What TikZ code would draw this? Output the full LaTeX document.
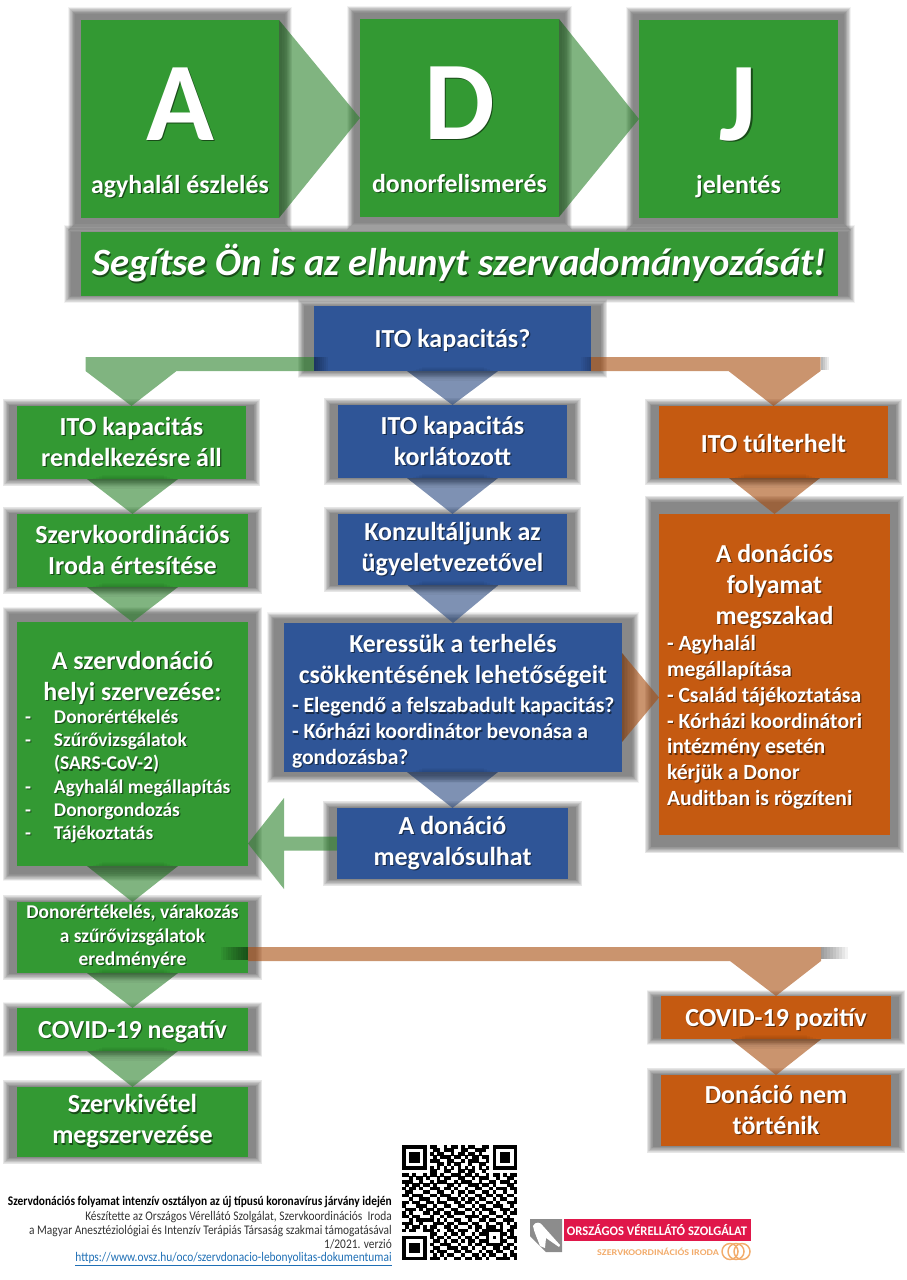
\documentclass[tikz,border=0pt]{standalone}
\usepackage{fontspec}
\setmainfont{Carlito}
\usetikzlibrary{calc}
\definecolor{gcol}{HTML}{339933}
\definecolor{bcol}{HTML}{2F5597}
\definecolor{ocol}{HTML}{C55A11}
\definecolor{redcol}{HTML}{E0174A}
\definecolor{lorange}{HTML}{F2AC6C}
\definecolor{linkcol}{HTML}{1F6FB5}
\pgfdeclarelayer{shadow}\pgfdeclarelayer{arrows}\pgfdeclarelayer{over}
\pgfsetlayers{shadow,arrows,main,over}
\def\fH{\fontsize{84}{97.5}\selectfont}
\def\fC{\fontsize{19.4}{23}\selectfont}
\def\fA{\fontsize{19.5}{23.25}\selectfont}
\def\fB{\fontsize{14.6}{17.4}\selectfont}
\def\fT{\fontsize{19.4}{23.25}\selectfont}
\def\fL{\fontsize{16.25}{19.4}\selectfont}
\newcommand{\Ls}[1]{\mbox{\rlap{\raisebox{-.9pt}{\hspace{.9pt}\textcolor{txs}{#1}}}#1}}
\newcommand{\Tc}[1]{\makebox[\linewidth][c]{\Ls{#1}}}
\newcommand{\Da}{\makebox[21.75pt][l]{-}}
\newcommand{\Un}{\rule{0pt}{17pt}}
\tikzset{
  x=.75pt,y=-.75pt,
  boxbase/.style={inner sep=0pt,outer sep=0pt,text=white,font=\bfseries\fA,align=center},
  gbox/.style={boxbase,fill=gcol,execute at begin node={\colorlet{txs}{black!50!gcol}}},
  bbox/.style={boxbase,fill=bcol,execute at begin node={\colorlet{txs}{black!50!bcol}}},
  obox/.style={boxbase,fill=ocol,execute at begin node={\colorlet{txs}{black!50!ocol}}},
  arrowfill/.style={fill=#1!85!black,opacity=.6},
  footline/.style={anchor=east,inner sep=0pt,xscale=.865,transform shape,text=black!80,font=\fontsize{9.9}{11}\selectfont},
  qrmod/.style={fill=black},
}
\newcommand{\bx}[8][]{%
  \pgfmathsetmacro\bw{#6-#4}\pgfmathsetmacro\bh{#7-#5}%
  \pgfmathsetmacro\sxx{min(13,.045*\bw)}\pgfmathsetmacro\syy{.045*\bh}%
  \begin{pgfonlayer}{shadow}
    \foreach \dd in {4,3.4,2.8,2.2,1.6,1,.4,-.2,-.8,-1.4,-2,-2.6}
      \fill[black,opacity=.05] (#4-\sxx-\dd,#5-\syy-\dd) rectangle (#6+\sxx+\dd,#7+\syy+\dd);
  \end{pgfonlayer}
  \node[#3,minimum width=\bw*.75pt,minimum height=\bh*.75pt,#1] (#2) at ({(#4+#6)/2},{(#5+#7)/2}) {#8};
}
% triangle connector with a soft dark band along its base
\newcommand{\tri}[5]{% colour, base A, base B, apex, shift vector of the band
  \begin{pgfonlayer}{arrows}
    \fill[arrowfill=#1] #2 -- #3 -- #4 -- cycle;
    \begin{scope}
      \clip #2 -- #3 -- #4 -- cycle;
      \foreach \dd in {.2,.4,.6,.8,1}
        \fill[black,opacity=.04] #2 -- #3 -- ($#3+\dd*#5$) -- ($#2+\dd*#5$) -- cycle;
    \end{scope}
  \end{pgfonlayer}
}
\newcommand{\dn}[3]{\tri{#3}{($(#1.south -| #2.north)+(-45.5,0)$)}{($(#1.south -| #2.north)+(45.5,0)$)}{(#2.north)}{(0,10)}%
  \begin{pgfonlayer}{over}
    \foreach \dd/\ww in {1/40,2/37,3/34,4/31}
      \fill[black,opacity=.03] ($(#1.south -| #2.north)+(-\ww,0)$) rectangle ($(#1.south -| #2.north)+(\ww,-\dd)$);
  \end{pgfonlayer}}
\newcount\qx
\def\qparse#1{\ifx#1;\else\if#11\fill[qrmod] (402+3.49*\qx-.1,\qy-.1) rectangle ++(3.69,3.69);\fi\advance\qx by 1 \expandafter\qparse\fi}
\begin{document}
\begin{tikzpicture}
\useasboundingbox (0,0) rectangle (906,1280);
% ---- top row
\bx{a}{gbox}{81}{20}{279}{218}{\fH\rule{0pt}{78pt}\Ls{A}\\[16.5pt]\fC\Ls{agyhalál észlelés}\rule[-6pt]{0pt}{6pt}}
\bx{d}{gbox}{360}{19}{559}{217}{\fH\rule{0pt}{78pt}\Ls{D}\\[16.5pt]\fC\Ls{donorfelismerés}\rule[-6pt]{0pt}{6pt}}
\bx{j}{gbox}{639}{20}{838}{218}{\fH\rule{0pt}{78pt}\Ls{J}\\[16.5pt]\fC\Ls{jelentés}\rule[-6pt]{0pt}{6pt}}
\bx{slogan}{gbox}{81}{232}{838}{296}{\fontsize{29}{34}\selectfont\itshape\Ls{Segítse Ön is az elhunyt szervadományozását!}}
\bx{top}{bbox}{314}{306}{591}{371}{\Un\Ls{ITO kapacitás?}}
% ---- left column
\bx{g1}{gbox}{17}{406}{246}{479}{\Ls{ITO kapacitás}\\\Ls{rendelkezésre áll}}
\bx{g2}{gbox}{17}{514}{248}{587}{\Ls{Szervkoordinációs}\\\Ls{Iroda értesítése}}
\bx[text width=215*.75pt,align=flush left]{g3}{gbox}{17}{622}{248}{866}{\fT\rule{0pt}{19pt}\Tc{A szervdonáció}\\\Tc{helyi szervezése:}\\\fB
\Ls{\Da Donorértékelés}\\\Ls{\Da Szűrővizsgálatok}\\\Ls{\makebox[21.75pt][l]{}(SARS-CoV-2)}\\\Ls{\Da Agyhalál megállapítás}\\\Ls{\Da Donorgondozás}\\\Ls{\Da Tájékoztatás}\par}
\bx[font=\bfseries\fontsize{14.6}{17.6}\selectfont]{g4}{gbox}{17}{902}{248}{973}{\Ls{Donorértékelés, várakozás}\\\Ls{a szűrővizsgálatok}\\\Ls{eredményére}}
\bx{g5}{gbox}{17}{1008}{248}{1051}{\Un\Ls{COVID-19 negatív}}
\bx{g6}{gbox}{17}{1087}{248}{1157}{\Ls{Szervkivétel}\\\Ls{megszervezése}}
% ---- middle column
\bx{b1}{bbox}{338}{405}{567}{478}{\Ls{ITO kapacitás}\\\Ls{korlátozott}}
\bx{b2}{bbox}{338}{514}{567}{585}{\Ls{Konzultáljunk az}\\\Ls{ügyeletvezetővel}}
\bx[text width=322*.75pt,align=flush left]{b3}{bbox}{284}{623}{622}{772}{\fT\rule{0pt}{20pt}\Tc{Keressük a terhelés}\\\Tc{csökkentésének lehetőségeit}\\[3pt]\fL\Ls{- Elegendő a felszabadult kapacitás?}\\\Ls{- Kórházi koordinátor bevonása a}\\\Ls{gondozásba?}\par}
\bx{b4}{bbox}{337}{808}{568}{879}{\Ls{A donáció}\\\Ls{megvalósulhat}}
% ---- right column
\bx{o1}{obox}{659}{406}{888}{478}{\Un\Ls{ITO túlterhelt}}
\bx[text width=215*.75pt,align=flush left]{o2}{obox}{659}{514}{890}{835}{\fT\rule{0pt}{18pt}\Tc{A donációs}\\\Tc{folyamat}\\\Tc{megszakad}\\\fL\Ls{- Agyhalál}\\\Ls{megállapítása}\\\Ls{- Család tájékoztatása}\\\Ls{- Kórházi koordinátori}\\\Ls{intézmény esetén}\\\Ls{kérjük a Donor}\\\Ls{Auditban is rögzíteni}\par}
\bx{o3}{obox}{661}{996}{891}{1039}{\Un\Ls{COVID-19 pozitív}}
\bx{o4}{obox}{661}{1075}{891}{1146}{\Ls{Donáció nem}\\\Ls{történik}}
% ---- straight connectors
\tri{gcol}{(a.north east)}{(a.south east)}{(d.west)}{(13,0)}
\tri{gcol}{(d.north east)}{(d.south east)}{(j.west)}{(13,0)}
\dn{top}{b1}{bcol}
\dn{b1}{b2}{bcol}
\dn{b2}{b3}{bcol}
\dn{b3}{b4}{bcol}
\dn{g1}{g2}{gcol}
\dn{g2}{g3}{gcol}
\dn{g3}{g4}{gcol}
\dn{g4}{g5}{gcol}
\dn{g5}{g6}{gcol}
\dn{o1}{o2}{ocol}
\dn{o3}{o4}{ocol}
\tri{ocol}{($(b3.east)+(0,-44.5)$)}{($(b3.east)+(0,44.5)$)}{(o2.west |- b3.east)}{(8,0)}
% ---- bent connectors
\begin{pgfonlayer}{arrows}
  \fill[arrowfill=gcol] (top.south west) -- ++(0,-14) -- ($(top.south -| g1.north)+(-46,-14)$) -- ($(top.south -| g1.north)+(-46,0)$) -- (g1.north) -- ($(top.south -| g1.north)+(45,0)$) -- cycle;
  \fill[arrowfill=ocol] (top.south east) -- ++(0,-14) -- ($(top.south -| o1.north)+(47,-14)$) -- ($(top.south -| o1.north)+(47,0)$) -- (o1.north) -- ($(top.south -| o1.north)+(-45,0)$) -- cycle;
  \fill[arrowfill=ocol] ($(g4.north east)+(0,45)$) -- ($(g4.north -| o3.north)+(45,45)$) -- ($(g4.north -| o3.north)+(45,59)$) -- (o3.north) -- ($(g4.north -| o3.north)+(-46,59)$) -- ($(g4.north east)+(0,59)$) -- cycle;
  \fill[arrowfill=gcol] ($(b4.west)+(0,-7)$) -- ($(b4.west)+(-53,-7)$) -- ($(b4.west)+(-53,-45.5)$) -- (g3.east |- b4.west) -- ($(b4.west)+(-53,45.5)$) -- ($(b4.west)+(-53,7)$) -- ($(b4.west)+(0,7)$) -- cycle;
\end{pgfonlayer}
% soft shadows of the bars
\begin{pgfonlayer}{shadow}
  \foreach \dd in {3,6,9,12,15,18,21,24,27}
    \fill[black,opacity=.05] ($(g4.north -| o3.north)+(45,45)$) rectangle ($(g4.north -| o3.north)+(45+\dd,57)$);
  \foreach \dd in {2,4,6,8}
    \fill[black,opacity=.08] ($(top.south -| o1.north)+(47,-14)$) rectangle ($(top.south -| o1.north)+(47+\dd,-1)$);
\end{pgfonlayer}
\begin{pgfonlayer}{over}
  \foreach \dd in {2.5,5,7.5,10,12.5,15,17.5,20,22.5,25,27.5}
    \fill[black,opacity=.05] ($(g4.north east)+(0,45)$) rectangle ($(g4.north east)+(-\dd,58)$);
  \foreach \dd in {2,4,6,8,10,12,14}
    \fill[black,opacity=.055] ($(top.south west)+(0,-14)$) rectangle ($(top.south west)+(\dd,0)$);
  \foreach \dd in {2,4,6,8,10}
    \fill[black,opacity=.04] ($(top.south east)+(0,-14)$) rectangle ($(top.south east)+(-\dd,0)$);
\end{pgfonlayer}
% ---- footer text
\node[footline,font=\bfseries\fontsize{9.9}{11}\selectfont,text=black] (f1) at (392,1202) {Szervdonációs folyamat intenzív osztályon az új típusú koronavírus járvány idején};
\node[footline] (f2) at (392,1217) {Készítette az Országos Vérellátó Szolgálat, Szervkoordinációs~ Iroda};
\node[footline] (f3) at (392,1231) {a Magyar Anesztéziológiai és Intenzív Terápiás Társaság szakmai támogatásával};
\node[footline] (f4) at (392,1244) {1/2021. verzió};
\node[footline,text=linkcol,anchor=base east] (f5) at (392,1261) {\underline{https://www.ovsz.hu/oco/szervdonacio-lebonyolitas-dokumentumai}};
% ---- QR code
\foreach \r [count=\i from 0] in {
111111101100101101011001101111111,
100000100110111001100111001000001,
101110101011001011011010001011101,
101110100101110110101101101011101,
101110101110011001011100101011101,
100000100011010110010011001000001,
111111101010101010101010101111111,
000000001100110011011001000000000,
110100101101001110110100101101011,
001011010010110011001011100100110,
111001001011100101110010011011101,
010110110100011010011101101000110,
101101001110110100100110010111011,
011000110011001011011001101001001,
110111001101110010100110110110110,
001001110010011101011011001011001,
110110011011100110110100110100111,
100011100100110011001011001110010,
011101011011001100110101110011101,
101000110110110111001010011001011,
110110001001011000111101100110100,
001011111010100110010011011001110,
111001000111011011101100100110101,
010110101100110100010110111010011,
101100111010011011100101111110110,
000000001100101101001011100011010,
111111101011010010110100101010111,
100000100110101101011011100011001,
101110101001110010010110111110110,
101110100110011101101001001101101,
101110101011100110110010110110010,
100000100101011001001101011001011,
111111101110100110110110100111101}
{
  \pgfmathsetmacro\qy{1145+3.49*\i}
  \global\qx=0
  \expandafter\qparse\r;
}
% ---- logo
\fill[black!45] (530,1219) -- (562,1219) -- (562,1252) -- (546,1252) -- (530,1236) -- cycle;
\fill[white] (533,1226) .. controls (535,1221) and (541,1222) .. (543,1226) -- (560,1245) -- (559,1247) -- (546,1238) -- (545,1248) -- (540,1246) .. controls (538,1240) and (534,1232) .. (533,1226) -- cycle;
\fill[redcol] (564,1219) rectangle (751,1241);
\node[anchor=center,inner sep=0pt,text=white,font=\bfseries\fontsize{9.8}{12}\selectfont,xscale=.96,transform shape] (logotop) at (657,1230) {ORSZÁGOS VÉRELLÁTÓ SZOLGÁLAT};
\node[anchor=center,inner sep=0pt,text=lorange,font=\bfseries\fontsize{6.6}{8}\selectfont,xscale=1.15,transform shape] (logosub) at (658,1252) {SZERVKOORDINÁCIÓS IRODA};
\foreach \cx in {730,736,742}
  \draw[lorange,line width=1.1pt] (\cx,1251.5) circle [radius=8];
\end{tikzpicture}
\end{document}
